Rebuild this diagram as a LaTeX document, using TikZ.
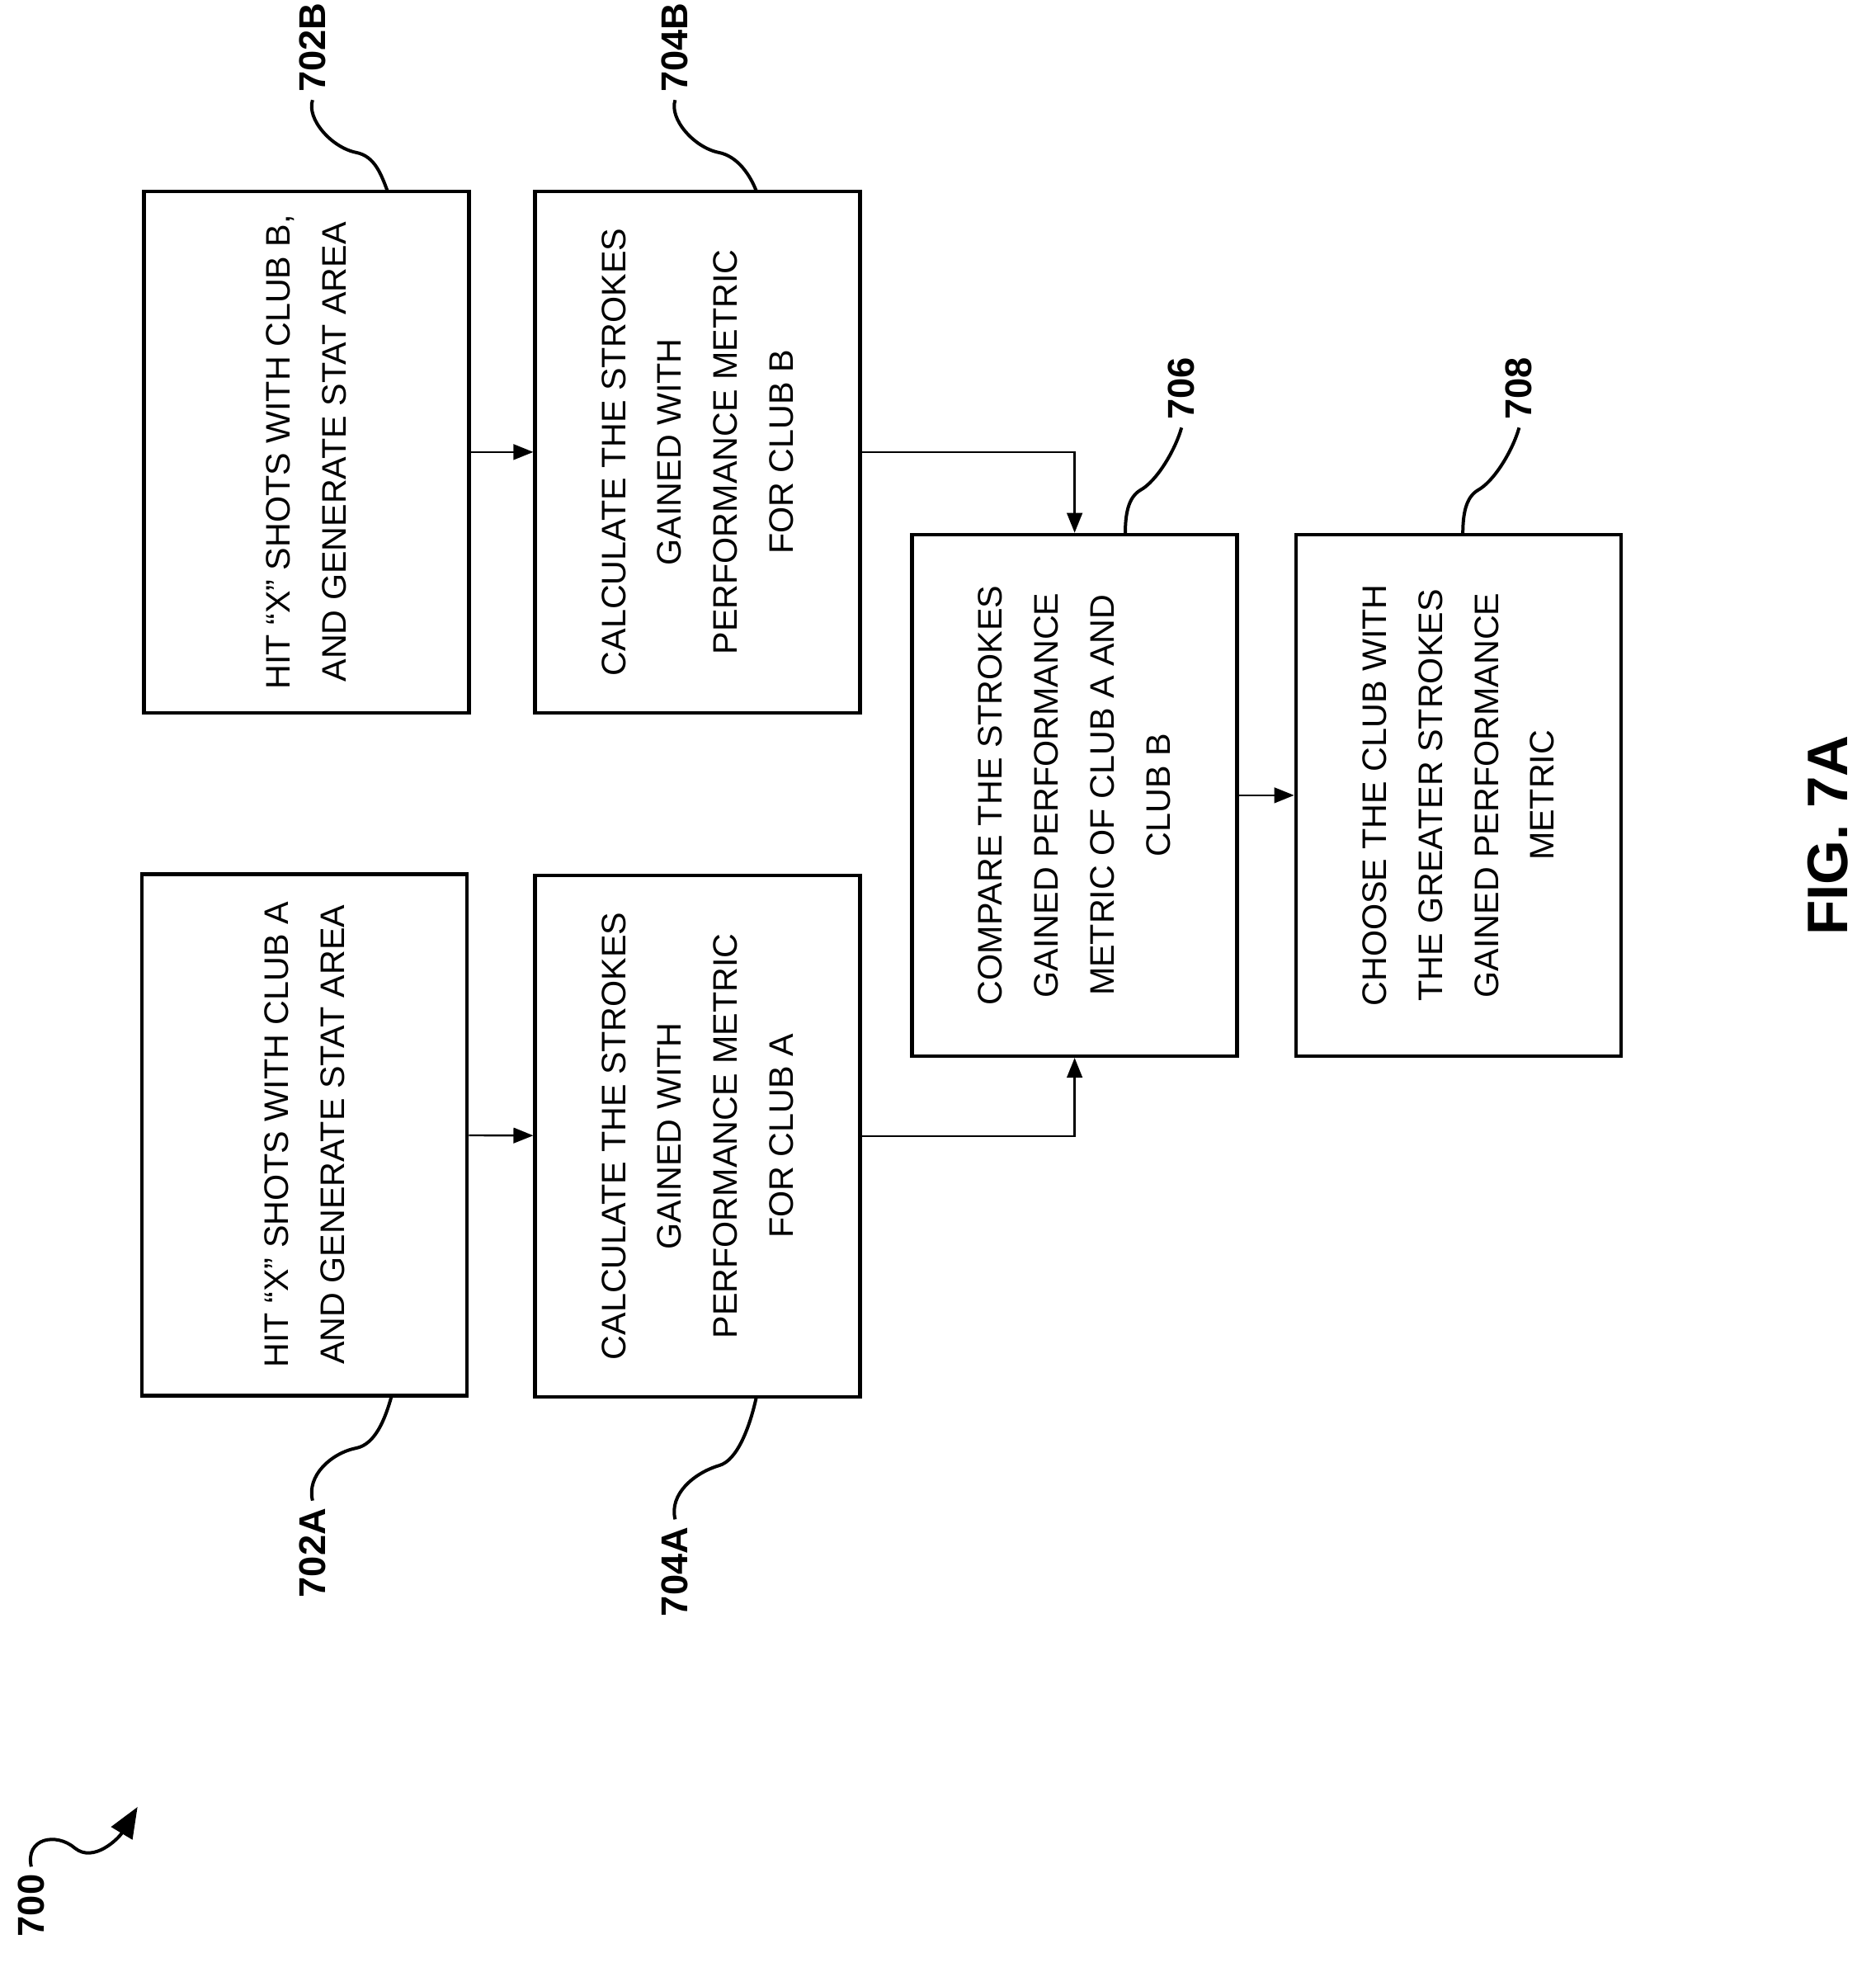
\documentclass[tikz,border=0pt]{standalone}
\usepackage{fontspec}
\setmainfont{Liberation Sans}
\usetikzlibrary{arrows.meta}
\tikzset{
  stepbox/.style={draw, line width=1.7pt, rotate=90, minimum width=8.34cm, minimum height=5.2cm, align=center, font=\fontsize{15.5}{25.5}\selectfont},
  flow/.style={line width=0.9pt, -{Triangle[length=9pt,width=7pt]}},
  lead/.style={line width=1.5pt},
  ref/.style={rotate=90, font=\bfseries\fontsize{17}{20}\selectfont}
}
\begin{document}
\begin{tikzpicture}[x=0.02cm, y=-0.02cm]
\useasboundingbox (0,0) rectangle (1500,1577);
\node [stepbox] (hitb) at (245,361.5) {HIT ``X'' SHOTS WITH CLUB B,\\AND GENERATE STAT AREA};
\node [stepbox] (calcb) at (558,361.5) {CALCULATE THE STROKES\\GAINED WITH\\PERFORMANCE METRIC\\FOR CLUB B};
\node [stepbox] (hita) at (243.5,907.5) {HIT ``X'' SHOTS WITH CLUB A\\AND GENERATE STAT AREA};
\node [stepbox] (calca) at (558,908.5) {CALCULATE THE STROKES\\GAINED WITH\\PERFORMANCE METRIC\\FOR CLUB A};
\node [stepbox] (compare) at (859.5,636) {COMPARE THE STROKES\\GAINED PERFORMANCE\\METRIC OF CLUB A AND\\CLUB B};
\node [stepbox] (choose) at (1166.5,636) {CHOOSE THE CLUB WITH\\THE GREATER STROKES\\GAINED PERFORMANCE\\METRIC};
\draw [flow] (hitb) -- (calcb);
\draw [flow] (hita) -- (calca);
\draw [flow] (calcb.south) -| (compare.east);
\draw [flow] (calca.south) -| (compare.west);
\draw [flow] (compare) -- (choose);
% reference numerals
\node [ref, anchor=west] (n702b) at (250,80) {702B};
\node [ref, anchor=west] (n704b) at (540,80) {704B};
\node [ref, anchor=west] (n706) at (945,342) {706};
\node [ref, anchor=west] (n708) at (1215,342) {708};
\node [ref, anchor=east] (n702a) at (250,1200) {702A};
\node [ref, anchor=east] (n704a) at (540,1215) {704A};
\node [ref, anchor=west] (n700) at (25,1555) {700};
\node [ref, anchor=center] (fig) at (1462,668) {\fontsize{26}{30}\selectfont FIG. 7A};
\coordinate (l702b) at (310,153);
\coordinate (l704b) at (605,153);
\coordinate (l706) at (900,427);
\coordinate (l708) at (1170,427);
\coordinate (l702a) at (313,1117);
\coordinate (l704a) at (605,1117);
\draw [lead] (n702b.west) .. controls (245,95) and (265,118) .. (285,122) .. controls (300,125) and (305,140) .. (l702b);
\draw [lead] (n704b.west) .. controls (535,95) and (555,118) .. (575,122) .. controls (590,125) and (600,140) .. (l704b);
\draw [lead] (n706.west) .. controls (940,360) and (925,385) .. (912,392) .. controls (902,398) and (900,412) .. (l706);
\draw [lead] (n708.west) .. controls (1210,360) and (1195,385) .. (1182,392) .. controls (1172,398) and (1170,412) .. (l708);
\draw [lead] (n702a.east) .. controls (245,1180) and (265,1162) .. (285,1158) .. controls (300,1155) and (308,1135) .. (l702a);
\draw [lead] (n704a.east) .. controls (535,1195) and (555,1178) .. (575,1172) .. controls (590,1168) and (600,1140) .. (l704a);
\coordinate (t700) at (110,1445);
\draw [lead, -{Triangle[length=14pt,width=11pt]}] (n700.east) .. controls (20,1470) and (45,1465) .. (60,1478) .. controls (75,1490) and (95,1470) .. (t700);
\end{tikzpicture}
\end{document}
